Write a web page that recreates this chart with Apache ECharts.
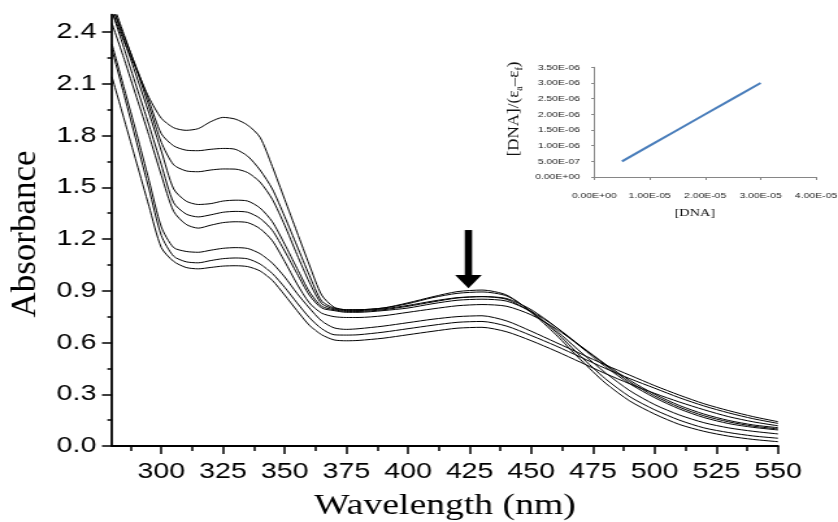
<!DOCTYPE html>
<html>
<head>
<meta charset="utf-8">
<script src="https://cdn.jsdelivr.net/npm/echarts@6/dist/echarts.min.js"></script>
<style>
  html, body { margin: 0; padding: 0; background: #fff; overflow: hidden; }
  #chart { width: 645px; height: 522px; transform-origin: 0 0; }
</style>
</head>
<body>
<div id="chart"></div>
<script>
// The figure is laid out on a narrower canvas and widened horizontally.
const STRETCH = 838 / 645;
document.getElementById('chart').style.transform = 'scaleX(' + STRETCH + ')';

// Wavelength sampling (nm)
const wavelengths = [280, 285, 290, 295, 300, 305, 310, 315, 320, 325, 330, 335, 340, 345, 350, 355, 360, 365, 370, 375,
  380, 390, 400, 410, 420, 430, 440, 450, 460, 470, 480, 490, 500, 510, 520, 530, 540, 550];

// Absorbance spectra during the DNA titration
const spectrum1 = [2.52, 2.34, 2.18, 2.02, 1.90, 1.845, 1.83, 1.84, 1.88, 1.905, 1.895, 1.86, 1.79, 1.62, 1.43, 1.24, 1.05, 0.875, 0.805, 0.79,
  0.79, 0.80, 0.83, 0.865, 0.895, 0.904, 0.875, 0.775, 0.645, 0.50, 0.365, 0.26, 0.185, 0.125, 0.085, 0.057, 0.038, 0.025];
const spectrum2 = [2.55, 2.37, 2.19, 2.00, 1.81, 1.74, 1.715, 1.712, 1.72, 1.725, 1.72, 1.68, 1.60, 1.49, 1.33, 1.16, 0.99, 0.84, 0.80, 0.79,
  0.79, 0.80, 0.825, 0.86, 0.885, 0.893, 0.87, 0.78, 0.66, 0.52, 0.39, 0.285, 0.21, 0.15, 0.105, 0.078, 0.058, 0.045];
const spectrum3 = [2.58, 2.38, 2.18, 1.97, 1.76, 1.63, 1.595, 1.59, 1.60, 1.606, 1.605, 1.585, 1.53, 1.43, 1.28, 1.11, 0.95, 0.825, 0.795, 0.785,
  0.785, 0.795, 0.815, 0.84, 0.86, 0.866, 0.85, 0.775, 0.67, 0.545, 0.425, 0.32, 0.24, 0.18, 0.135, 0.105, 0.085, 0.07];
const spectrum4 = [2.55, 2.35, 2.14, 1.93, 1.71, 1.49, 1.42, 1.40, 1.405, 1.42, 1.425, 1.42, 1.38, 1.30, 1.17, 1.03, 0.895, 0.81, 0.79, 0.78,
  0.78, 0.79, 0.81, 0.835, 0.858, 0.866, 0.855, 0.79, 0.69, 0.575, 0.46, 0.36, 0.28, 0.215, 0.165, 0.13, 0.108, 0.093];
const spectrum5 = [2.52, 2.30, 2.08, 1.86, 1.63, 1.41, 1.345, 1.328, 1.34, 1.355, 1.36, 1.355, 1.32, 1.25, 1.13, 1.00, 0.875, 0.80, 0.785, 0.775,
  0.775, 0.785, 0.80, 0.825, 0.845, 0.851, 0.84, 0.78, 0.69, 0.58, 0.47, 0.37, 0.29, 0.225, 0.175, 0.14, 0.115, 0.099];
const spectrum6 = [2.45, 2.24, 2.02, 1.80, 1.57, 1.36, 1.285, 1.263, 1.28, 1.295, 1.30, 1.295, 1.26, 1.19, 1.07, 0.94, 0.83, 0.77, 0.75, 0.745,
  0.745, 0.755, 0.775, 0.795, 0.813, 0.82, 0.81, 0.76, 0.68, 0.58, 0.475, 0.38, 0.30, 0.235, 0.185, 0.148, 0.122, 0.106];
const spectrum7 = [2.33, 2.07, 1.81, 1.54, 1.27, 1.15, 1.128, 1.123, 1.135, 1.146, 1.15, 1.145, 1.115, 1.06, 0.98, 0.885, 0.80, 0.725, 0.685, 0.676,
  0.68, 0.695, 0.715, 0.735, 0.75, 0.755, 0.725, 0.665, 0.60, 0.535, 0.47, 0.41, 0.35, 0.295, 0.245, 0.205, 0.17, 0.141];
const spectrum8 = [2.30, 2.03, 1.76, 1.49, 1.22, 1.10, 1.068, 1.062, 1.075, 1.086, 1.09, 1.085, 1.055, 1.00, 0.92, 0.83, 0.745, 0.68, 0.645, 0.643,
  0.645, 0.66, 0.68, 0.70, 0.717, 0.722, 0.695, 0.64, 0.58, 0.515, 0.45, 0.39, 0.335, 0.28, 0.232, 0.192, 0.158, 0.131];
const spectrum9 = [2.14, 1.89, 1.64, 1.39, 1.15, 1.07, 1.035, 1.027, 1.035, 1.043, 1.045, 1.04, 1.015, 0.96, 0.875, 0.785, 0.70, 0.645, 0.615, 0.61,
  0.612, 0.625, 0.645, 0.665, 0.683, 0.688, 0.662, 0.61, 0.55, 0.485, 0.42, 0.36, 0.305, 0.255, 0.21, 0.17, 0.14, 0.117];
const spectra = [spectrum1, spectrum2, spectrum3, spectrum4, spectrum5, spectrum6, spectrum7, spectrum8, spectrum9];

// Main axis ticks
const xMajorTicks = [300, 325, 350, 375, 400, 425, 450, 475, 500, 525, 550];
const xMinorTicks = [287.5, 312.5, 337.5, 362.5, 387.5, 412.5, 437.5, 462.5, 487.5, 512.5, 537.5];
const yMajorTicks = [0, 0.3, 0.6, 0.9, 1.2, 1.5, 1.8, 2.1, 2.4];
const yMinorTicks = [0.15, 0.45, 0.75, 1.05, 1.35, 1.65, 1.95, 2.25];

// Arrow marking the decreasing band: [wavelength, tail absorbance, tip absorbance]
const arrowData = [[424.5, 1.252, 0.914]];

// Inset: [DNA] vs [DNA]/(εa−εf)
const dnaConc = [5.0e-6, 1.0e-5, 1.5e-5, 2.0e-5, 2.5e-5, 3.0e-5];
const dnaRatio = [5.0e-7, 1.0e-6, 1.5e-6, 2.0e-6, 2.5e-6, 3.0e-6];
const insetXTicks = [0, 1e-5, 2e-5, 3e-5, 4e-5];
const insetYTicks = [0, 5e-7, 1e-6, 1.5e-6, 2e-6, 2.5e-6, 3e-6, 3.5e-6];

function sci(v) {
  if (Math.abs(v) < 1e-15) return '0.00E+00';
  const parts = v.toExponential(2).split('e');
  const n = parseInt(parts[1], 10);
  return parts[0] + 'E' + (n < 0 ? '-' : '+') + String(Math.abs(n)).padStart(2, '0');
}

const SANS = '"Liberation Sans", Arial, sans-serif';
const SERIF = '"Liberation Serif", "Times New Roman", serif';

const spectrumSeries = spectra.map(function (vals, k) {
  return {
    type: 'line',
    name: 'spectrum' + (k + 1),
    xAxisIndex: 0,
    yAxisIndex: 0,
    data: wavelengths.map(function (w, i) { return [w, vals[i]]; }),
    symbol: 'none',
    smooth: 0.25,
    clip: true,
    lineStyle: { color: '#000', width: 1 },
    silent: true,
    z: 2
  };
});

// Thick downward arrow drawn in data coordinates
const arrowSeries = {
  type: 'custom',
  name: 'arrow',
  coordinateSystem: 'cartesian2d',
  xAxisIndex: 0,
  yAxisIndex: 0,
  clip: false,
  silent: true,
  z: 5,
  data: arrowData,
  renderItem: function (params, api) {
    const tail = api.coord([api.value(0), api.value(1)]);
    const tip = api.coord([api.value(0), api.value(2)]);
    const headH = 13.3, headW = 20.5, shaftW = 5.6;
    return {
      type: 'group',
      children: [
        {
          type: 'rect',
          shape: { x: tail[0] - shaftW / 2, y: tail[1], width: shaftW, height: tip[1] - headH - tail[1] + 1 },
          style: { fill: '#000' }
        },
        {
          type: 'polygon',
          shape: { points: [[tip[0] - headW / 2, tip[1] - headH], [tip[0] + headW / 2, tip[1] - headH], [tip[0], tip[1]]] },
          style: { fill: '#000' }
        }
      ]
    };
  }
};

const chart = echarts.init(document.getElementById('chart'), null, { renderer: 'canvas', width: 645, height: 522 });

chart.setOption({
  animation: false,
  backgroundColor: '#fff',
  grid: [
    { left: 86.2, right: 46.2, top: 14.75, bottom: 76, containLabel: false, outerBoundsMode: 'none' },
    { left: 457.4, right: 16.9, top: 67.3, bottom: 345, containLabel: false, outerBoundsMode: 'none' }
  ],
  xAxis: [
    {
      gridIndex: 0, type: 'value', min: 280, max: 550, position: 'bottom',
      axisLine: { show: true, lineStyle: { color: '#000', width: 2 } },
      axisTick: { show: true, customValues: xMajorTicks, length: 8, lineStyle: { color: '#000', width: 1.5 } },
      axisLabel: { customValues: xMajorTicks, margin: 15, fontSize: 22, fontFamily: SANS, color: '#000' },
      splitLine: { show: false },
      name: 'Wavelength (nm)', nameLocation: 'middle', nameGap: 46,
      nameTextStyle: { fontFamily: SERIF, fontSize: 29, color: '#000' }
    },
    {
      gridIndex: 0, type: 'value', min: 280, max: 550, position: 'bottom',
      axisLine: { show: false },
      axisTick: { show: true, customValues: xMinorTicks, length: 5, lineStyle: { color: '#000', width: 1.5 } },
      axisLabel: { show: false },
      splitLine: { show: false }
    },
    {
      gridIndex: 1, type: 'value', min: 0, max: 4e-5, interval: 1e-5, position: 'bottom',
      axisLine: { show: true, lineStyle: { color: '#868686', width: 1 } },
      axisTick: { show: true, customValues: insetXTicks, length: 3, lineStyle: { color: '#868686', width: 1 } },
      axisLabel: { customValues: insetXTicks, formatter: sci, margin: 15, fontSize: 8, fontFamily: SANS, color: '#222' },
      splitLine: { show: false },
      name: '[DNA]', nameLocation: 'middle', nameGap: 31,
      nameTextStyle: { fontFamily: SERIF, fontSize: 11, color: '#111', padding: [0, 16, 0, 0] }
    }
  ],
  yAxis: [
    {
      gridIndex: 0, type: 'value', min: 0, max: 2.5, position: 'left',
      axisLine: { show: true, lineStyle: { color: '#000', width: 1.8 } },
      axisTick: { show: true, customValues: yMajorTicks, length: 7.7, lineStyle: { color: '#000', width: 1.5 } },
      axisLabel: {
        customValues: yMajorTicks, margin: 12, fontSize: 22, fontFamily: SANS, color: '#000',
        formatter: function (v) { return v.toFixed(1); }
      },
      splitLine: { show: false }
    },
    {
      gridIndex: 0, type: 'value', min: 0, max: 2.5, position: 'left',
      axisLine: { show: false },
      axisTick: { show: true, customValues: yMinorTicks, length: 3.6, lineStyle: { color: '#000', width: 1.5 } },
      axisLabel: { show: false },
      splitLine: { show: false }
    },
    {
      gridIndex: 1, type: 'value', min: 0, max: 3.5e-6, position: 'left',
      axisLine: { show: true, lineStyle: { color: '#868686', width: 1 } },
      axisTick: { show: true, customValues: insetYTicks, length: 2.3, lineStyle: { color: '#868686', width: 1 } },
      axisLabel: { customValues: insetYTicks, formatter: sci, margin: 11, fontSize: 8, fontFamily: SANS, color: '#222' },
      splitLine: { show: false }
    }
  ],
  graphic: [
    {
      // vertical titles are kept at their natural proportions
      type: 'text', x: 19.9, y: 234, rotation: Math.PI / 2, scaleY: 1 / STRETCH, silent: true,
      style: { text: 'Absorbance', fontFamily: SERIF, fontSize: 35, fill: '#000', align: 'center', verticalAlign: 'middle' }
    },
    {
      type: 'text', x: 395.6, y: 109, rotation: Math.PI / 2, scaleY: 1 / STRETCH, silent: true,
      style: {
        text: '[DNA]/(ε{sub|a}–ε{sub|f})',
        fontFamily: SERIF, fontSize: 17, fill: '#111', align: 'center', verticalAlign: 'middle',
        lineHeight: 22,
        rich: { sub: { fontFamily: SERIF, fontSize: 10, verticalAlign: 'bottom', fill: '#111' } }
      }
    }
  ],
  series: spectrumSeries.concat([
    arrowSeries,
    {
      type: 'line',
      name: 'binding plot',
      xAxisIndex: 2,
      yAxisIndex: 2,
      data: dnaConc.map(function (c, i) { return [c, dnaRatio[i]]; }),
      symbol: 'none',
      lineStyle: { color: '#4a7ebb', width: 2 },
      silent: true
    }
  ])
});
</script>
</body>
</html>
